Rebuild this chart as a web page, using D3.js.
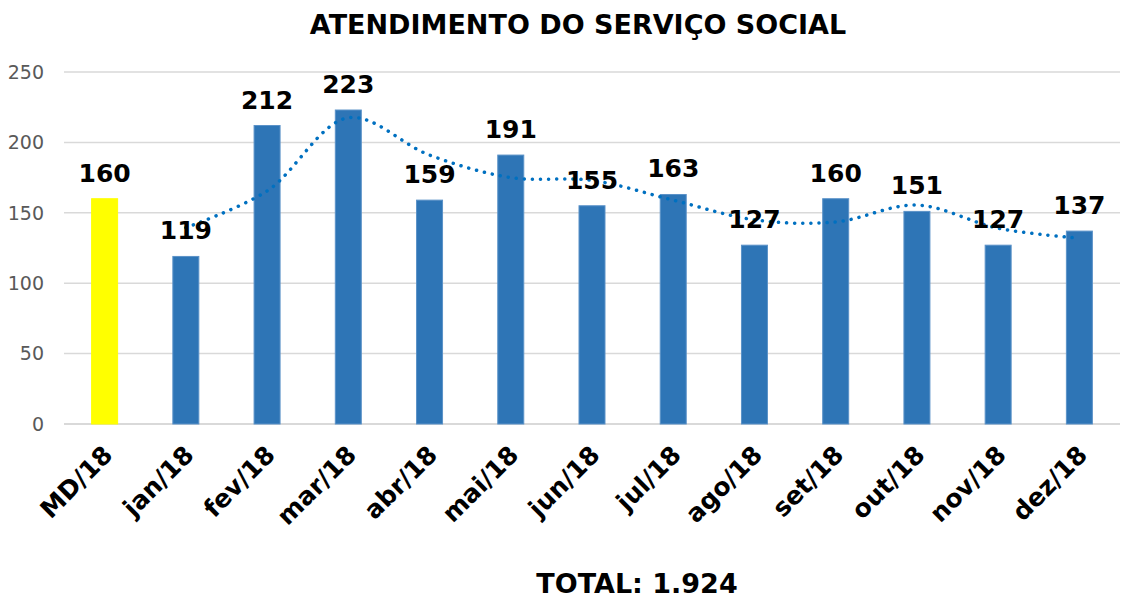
<!DOCTYPE html>
<html>
<head>
<meta charset="utf-8">
<script src="https://cdn.jsdelivr.net/npm/d3@7"></script>
<style>
  body { margin: 0; background: #fff; }
  text { font-family: "DejaVu Sans", Verdana, sans-serif; }
</style>
</head>
<body>
<div id="chart"></div>
<script>
// data
const months = ["MD/18", "jan/18", "fev/18", "mar/18", "abr/18", "mai/18", "jun/18",
                "jul/18", "ago/18", "set/18", "out/18", "nov/18", "dez/18"];
const atendimentos = [160, 119, 212, 223, 159, 191, 155, 163, 127, 160, 151, 127, 137];
// dotted trend line (starts at jan/18)
const trendMonths = months.slice(1);
const trendValues = [139.5, 165.5, 217.5, 191, 175, 173, 159, 145, 143.5, 155.5, 139, 132];
const yTicks = [0, 50, 100, 150, 200, 250];

const width = 1123;
const height = 601;
const margin = { top: 72, right: 3, bottom: 177, left: 64 };

const svg = d3.select("#chart")
    .append("svg")
    .attr("width", width)
    .attr("height", height);

const x = d3.scaleBand()
    .domain(months)
    .range([margin.left, width - margin.right])
    .paddingInner(0.68)
    .paddingOuter(0.34);

const y = d3.scaleLinear()
    .domain([0, 250])
    .range([height - margin.bottom, margin.top]);

// gridlines
svg.append("g")
    .selectAll("line")
    .data(yTicks)
    .enter()
    .append("line")
    .attr("x1", margin.left)
    .attr("x2", width - margin.right)
    .attr("y1", d => y(d))
    .attr("y2", d => y(d))
    .attr("stroke", "#d9d9d9")
    .attr("stroke-width", d => d === 0 ? 2 : 1.5);

// y axis labels
svg.append("g")
    .selectAll("text")
    .data(yTicks)
    .enter()
    .append("text")
    .attr("x", 44)
    .attr("y", d => y(d))
    .attr("dy", "0.36em")
    .attr("text-anchor", "end")
    .attr("fill", "#595959")
    .style("font-size", "19px")
    .text(d => d);

// bars
svg.append("g")
    .selectAll("rect")
    .data(atendimentos)
    .enter()
    .append("rect")
    .attr("x", (d, i) => x(months[i]))
    .attr("y", d => y(d))
    .attr("width", x.bandwidth())
    .attr("height", d => y(0) - y(d))
    .attr("fill", (d, i) => i === 0 ? "#ffff00" : "#2e75b6")
    .attr("stroke", (d, i) => i === 0 ? "#ffff00" : "#5b92c8")
    .attr("stroke-width", 1);

// trend line
const line = d3.line()
    .x((d, i) => x(trendMonths[i]) + x.bandwidth() / 2)
    .y(d => y(d))
    .curve(d3.curveCatmullRom.alpha(0.5));

svg.append("path")
    .datum(trendValues)
    .attr("d", line)
    .attr("fill", "none")
    .attr("stroke", "#0070c0")
    .attr("stroke-width", 3.5)
    .attr("stroke-linecap", "round")
    .attr("stroke-dasharray", "0.1 8");

// value labels
svg.append("g")
    .selectAll("text")
    .data(atendimentos)
    .enter()
    .append("text")
    .attr("x", (d, i) => x(months[i]) + x.bandwidth() / 2)
    .attr("y", d => y(d) - 17)
    .attr("text-anchor", "middle")
    .attr("fill", "#000")
    .style("font-size", "25px")
    .style("font-weight", "bold")
    .text(d => d);

// x labels
svg.append("g")
    .selectAll("text")
    .data(months)
    .enter()
    .append("text")
    .attr("transform", d => `translate(${x(d) + x.bandwidth() / 2 - 3},${y(0) + 20}) rotate(-45)`)
    .attr("text-anchor", "end")
    .attr("dy", "0.7em")
    .attr("fill", "#000")
    .style("font-size", "25px")
    .style("font-weight", "bold")
    .text(d => d);

// title
svg.append("text")
    .attr("x", 578)
    .attr("y", 34)
    .attr("text-anchor", "middle")
    .style("font-size", "27px")
    .style("font-weight", "bold")
    .text("ATENDIMENTO DO SERVIÇO SOCIAL");

svg.append("text")
    .attr("x", 637)
    .attr("y", 593)
    .attr("text-anchor", "middle")
    .style("font-size", "27px")
    .style("font-weight", "bold")
    .text("TOTAL: 1.924");
</script>
</body>
</html>
